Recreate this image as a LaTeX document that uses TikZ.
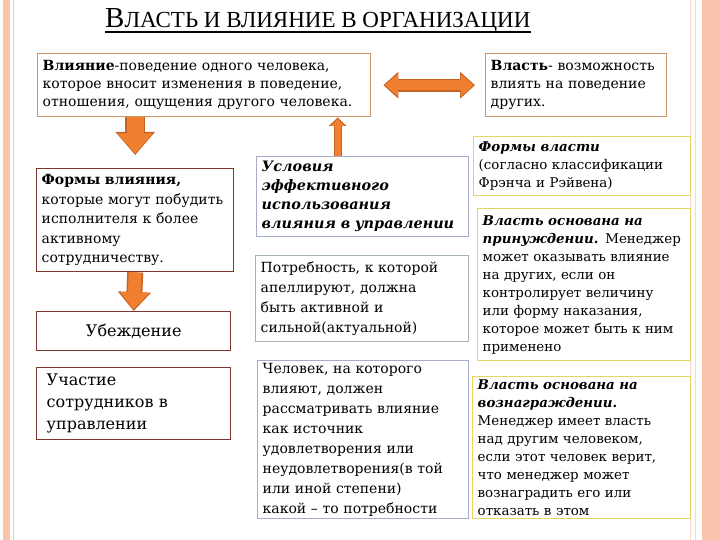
\documentclass[tikz,border=0pt]{standalone}
\usepackage{fontspec}
\setmainfont{DejaVu Serif}
\newfontfamily\titlefont{Liberation Serif}
\usetikzlibrary{arrows.meta,positioning,calc}
\definecolor{orgtan}{RGB}{200,150,105}
\definecolor{orgbrown}{RGB}{125,55,45}
\definecolor{orgblue}{RGB}{165,172,200}
\definecolor{orggreen}{RGB}{165,182,168}
\definecolor{orgyellow}{RGB}{232,212,95}
\definecolor{orgorange}{RGB}{240,128,48}
\definecolor{orgedge}{RGB}{196,98,36}
\definecolor{orgstripe}{RGB}{250,195,172}

\begin{document}
\begin{tikzpicture}[
  x=1pt, y=-1pt,
  box/.style={rectangle, draw, line width=1.4pt, fill=white, anchor=north west,
    align=left, inner xsep=5pt, inner ysep=2pt, font=\fontsize{14}{18}\selectfont},
  topbox/.style={box, draw=orgtan},
  leftbox/.style={box, draw=orgbrown, font=\fontsize{14}{19.5}\selectfont},
  midbox/.style={box, draw=orgblue, font=\fontsize{14}{20}\selectfont},
  powerbox/.style={box, draw=orgyellow, font=\fontsize{13.4}{18}\selectfont},
  arrowrim/.style n args={3}{draw=orgedge, line width=#1,
    -{Triangle[width=#2, length=#3]}},
  arrowfill/.style n args={3}{draw=orgorange, line width=#1,
    -{Triangle[width=#2, length=#3]}, shorten >=1.5pt}
]

\useasboundingbox (0,0) rectangle (720,540);

% Page decoration
\fill[orgstripe] (3,0) rectangle (9.5,540);
\draw[orgstripe, line width=0.8pt] (13,0) -- (13,540);
\draw[orgstripe!70, line width=0.8pt] (690,0) -- (690,540);
\draw[orgstripe!70, line width=0.8pt] (695,0) -- (695,540);
\fill[orgstripe] (702,0) rectangle (720,540);

% Title
\node[inner sep=0pt, anchor=base west, font=\titlefont] (title) at (105,28)
  {{\fontsize{29}{29}\selectfont В}{\fontsize{23}{23}\selectfont ЛАСТЬ И ВЛИЯНИЕ В ОРГАНИЗАЦИИ}};
\draw[line width=1.4pt] ([yshift=-4pt]title.base west) -- ([yshift=-4pt]title.base east);

% Definitions
\node[topbox, text width=323pt, minimum height=63pt] (infl) at (37,53)
  {\textbf{Влияние}-поведение одного человека,\\
   которое вносит изменения в поведение,\\
   отношения, ощущения другого человека.};
\node[topbox, text width=171pt, minimum height=63pt] (power) at (485,53)
  {\textbf{Власть}- возможность\\ влиять на поведение\\ других.};

% Left column
\node[leftbox, text width=187pt, minimum height=103pt] (forms) at (36,168)
  {\textbf{Формы влияния,}\\ которые могут побудить\\ исполнителя к более\\
   активному\\ сотрудничеству.};
\node[leftbox, text width=184pt, minimum height=39pt, align=center,
  font=\fontsize{16}{18}\selectfont] (persuade) at (36,311) {Убеждение};
\node[leftbox, text width=174pt, inner xsep=10pt, minimum height=72pt,
  font=\fontsize{16}{22}\selectfont] (particip) at (36,367)
  {Участие\\ сотрудников в\\ управлении};

% Middle column
\node[midbox, text width=202pt, minimum height=80pt,
  font=\fontsize{14.4}{19}\selectfont] (cond) at (256,156)
  {\textbf{\textit{Условия\\ эффективного\\ использования\\ влияния в управлении}}};
\node[midbox, draw=orggreen, text width=203pt, minimum height=86pt] (need) at (255,255)
  {Потребность, к которой\\ апеллируют, должна\\ быть активной и\\ сильной(актуальной)};
\node[midbox, text width=201pt, minimum height=158pt] (person) at (257,360)
  {Человек, на которого\\ влияют, должен\\ рассматривать влияние\\ как источник\\
   удовлетворения или\\ неудовлетворения(в той\\ или иной степени)\\ какой – то потребности};

% Right column
\node[powerbox, text width=207pt, minimum height=59pt] (pforms) at (473,136)
  {\textbf{\textit{Формы власти}}\\ (согласно классификации\\ Фрэнча и Рэйвена)};
\node[powerbox, text width=203pt, minimum height=152pt] (coerc) at (477,208)
  {\textbf{\textit{Власть основана на}}\\ \textbf{\textit{принуждении.}} Менеджер\\
   может оказывать влияние\\ на других, если он\\ контролирует величину\\
   или форму наказания,\\ которое может быть к ним\\ применено};
\node[powerbox, text width=208pt, minimum height=142pt] (reward) at (472,376)
  {\textbf{\textit{Власть основана на}}\\ \textbf{\textit{вознаграждении.}}\\
   Менеджер имеет власть\\ над другим человеком,\\ если этот человек верит,\\
   что менеджер может\\ вознаградить его или\\ отказать в этом};

% Arrows
\draw[arrowrim={13pt}{26pt}{15pt},
  {Triangle[width=26pt, length=15pt]}-{Triangle[width=26pt, length=15pt]},
  shorten <=12pt, shorten >=10pt] (infl.east) -- (power.west);
\draw[arrowfill={10pt}{22pt}{13pt},
  {Triangle[width=22pt, length=13pt]}-{Triangle[width=22pt, length=13pt]},
  shorten <=13.5pt, shorten >=11.5pt] (infl.east) -- (power.west);

\draw[arrowrim={20pt}{38pt}{23pt}, shorten >=13pt] (infl.south -| forms.north) -- (forms.north);
\draw[arrowfill={17pt}{34pt}{20pt}, shorten >=14.5pt] (infl.south -| forms.north) -- (forms.north);

\draw[arrowrim={16pt}{32pt}{19pt}] (forms.south) -- (persuade.north);
\draw[arrowfill={13pt}{28pt}{17pt}] (forms.south) -- (persuade.north);

\draw[arrowrim={8pt}{17pt}{8.5pt}]
  ([xshift=-25pt]cond.north) -- ([xshift=-25pt]cond.north |- infl.south);
\draw[arrowfill={6pt}{14pt}{7pt}]
  ([xshift=-25pt]cond.north) -- ([xshift=-25pt]cond.north |- infl.south);

\end{tikzpicture}
\end{document}
